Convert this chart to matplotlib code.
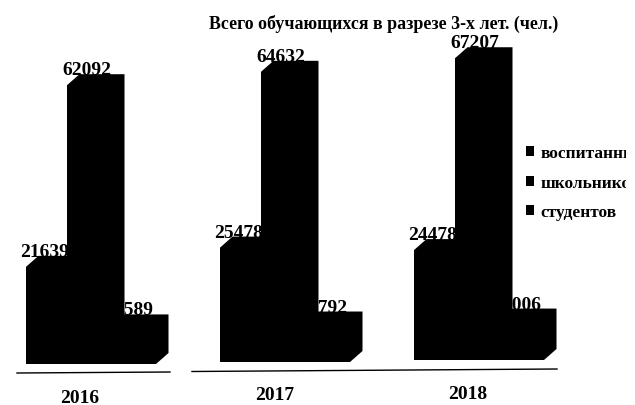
import matplotlib
matplotlib.use("Agg")
import matplotlib.pyplot as plt
from matplotlib.patches import Polygon, Patch
from matplotlib.transforms import Bbox

years = ["2016", "2017", "2018"]
series_names = ["воспитанников", "школьников", "студентов"]
vospitanniki = [21639, 25478, 24478]
shkolniki = [62092, 64632, 67207]
studenty = [8589, 8792, 9006]
title = "Всего обучающихся в разрезе 3-х лет. (чел.)"

W, H = 635, 406
PX_PER_UNIT = 4.49 / 1000
GROUP_PX = 194
ORIGIN_X, ORIGIN_Y = 26, 365
plt.rcParams["font.family"] = ["Liberation Serif", "DejaVu Serif"]

fig = plt.figure(figsize=(W / 100, H / 100), dpi=100, facecolor="white")
ax = fig.add_axes([0, 0, 1, 1])
ax.set_xlim(-ORIGIN_X / GROUP_PX, (W - ORIGIN_X) / GROUP_PX)
ax.set_ylim(-(H - ORIGIN_Y) / PX_PER_UNIT, ORIGIN_Y / PX_PER_UNIT)
ax.axis("off")


def dx(px):
    return px / GROUP_PX


def dy(px):
    return px / PX_PER_UNIT


def from_px(x, y):
    return (x - ORIGIN_X) / GROUP_PX, (ORIGIN_Y - y) / PX_PER_UNIT


BAR_W = dx(45)
OFFSETS = [dx(0), dx(41), dx(85)]
DEPTH_X, DEPTH_Y = dx(12.5), dy(11)
SCAN_TILT = [dy(0), dy(2), dy(4)]  # the scanned page drifts upward to the right

all_series = [vospitanniki, shkolniki, studenty]
for name, values, off in zip(series_names, all_series, OFFSETS):
    for i, v in enumerate(values):
        x0 = i + off
        b = SCAN_TILT[i]
        ax.bar(x0, v, BAR_W, bottom=b, align="edge", color="black", linewidth=0)
        x1 = x0 + BAR_W
        t = b + v
        ax.add_patch(Polygon(
            [(x0, t), (x0 + DEPTH_X, t + DEPTH_Y), (x1 + DEPTH_X, t + DEPTH_Y),
             (x1 + DEPTH_X, b + DEPTH_Y), (x1, b)],
            closed=True, facecolor="black", edgecolor="black", linewidth=0))

LABEL_SHIFT = [dx(19), dx(20), dx(22.5)]
for values, off, shift in zip(all_series, OFFSETS, LABEL_SHIFT):
    for i, v in enumerate(values):
        ax.text(i + off + shift, SCAN_TILT[i] + v + DEPTH_Y, str(v),
                ha="center", va="baseline", fontsize=14, fontweight="bold",
                color="black", zorder=1)

for year, cx, base in zip(years, [80, 275, 468], [403, 400, 399]):
    x, y = from_px(cx, base)
    ax.text(x, y, year, ha="center", va="baseline", fontsize=14,
            fontweight="bold", color="black")

for (xa, ya), (xb, yb) in [((17, 374), (170, 373)), ((192, 372.5), (557, 370))]:
    pa, pb = from_px(xa, ya), from_px(xb, yb)
    ax.plot([pa[0], pb[0]], [pa[1], pb[1]], color="black", linewidth=1)

tx, ty = from_px(384, 24)
ax.text(tx, ty, title, ha="center", va="center", fontsize=12.9,
        fontweight="bold", color="black")

handles = [Patch(facecolor="black", label=n) for n in series_names]
lx, ly = from_px(526, 146)
leg = ax.legend(handles=handles, loc="upper left", bbox_to_anchor=(lx, ly),
                bbox_transform=ax.transData, frameon=False,
                prop={"weight": "bold", "size": 12.5}, handlelength=0.45,
                handleheight=0.5, handletextpad=0.4, labelspacing=0.79,
                borderpad=0, borderaxespad=0)
clip = Bbox([[0, 0], [626, H]])
for text in leg.get_texts():
    text.set_clip_box(clip)
    text.set_clip_on(True)

fig.savefig("out.png", dpi=100, facecolor="white")
